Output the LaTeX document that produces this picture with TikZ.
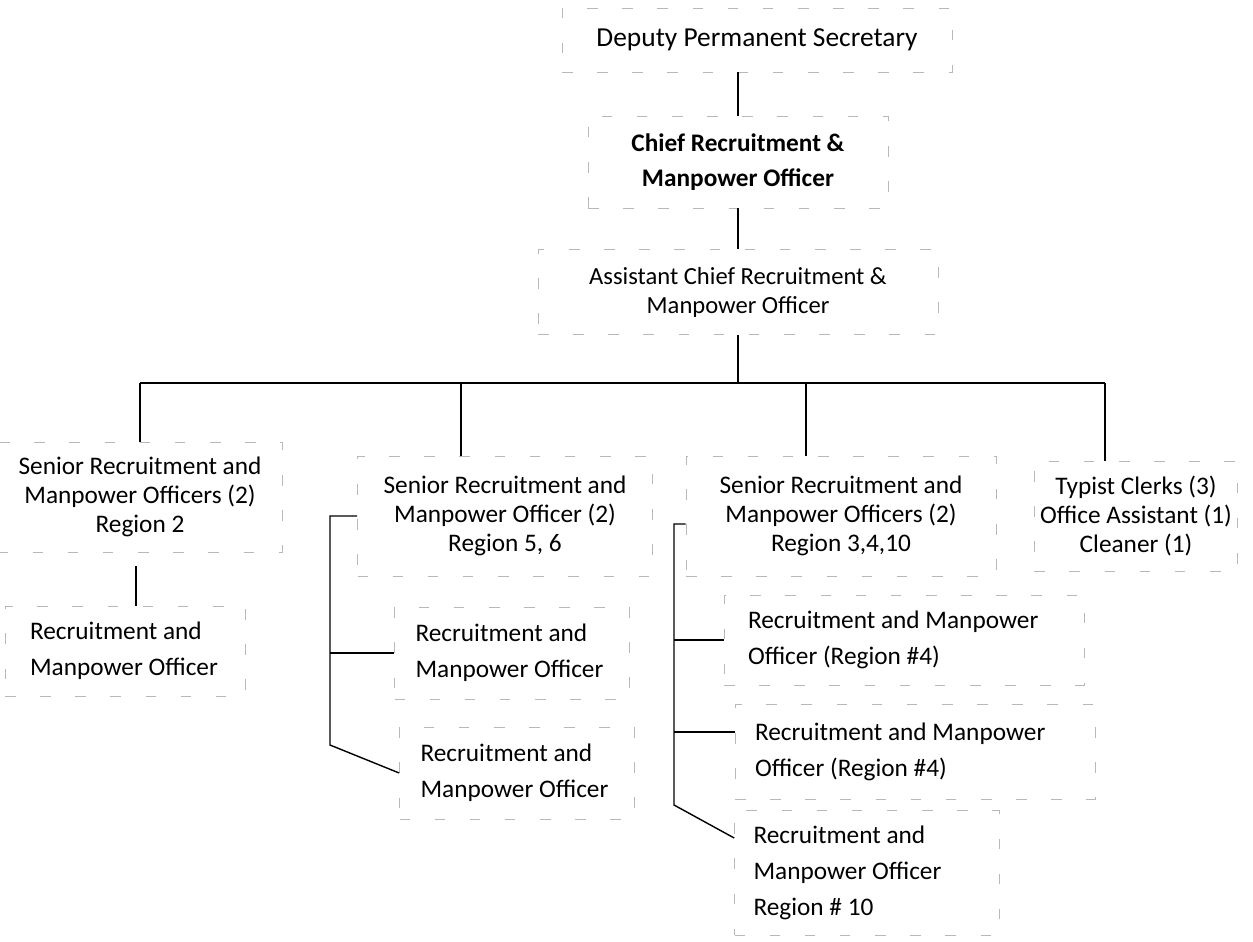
\documentclass[tikz,border=0pt]{standalone}
\usepackage{fontspec}
\setmainfont{Carlito}
\usetikzlibrary{calc}

\begin{document}
\begin{tikzpicture}[x=0.02cm,y=-0.02cm,
ghostbox/.style={draw=black!28,line width=0.4pt,dash pattern=on 6pt off 14pt},
post/.style={ghostbox,align=center,font=\fontsize{14.4}{16.5}\selectfont},
loosepost/.style={post,font=\fontsize{14.4}{20.5}\selectfont},
unitpost/.style={ghostbox,align=flush left,font=\fontsize{14.4}{20.5}\selectfont},
link/.style={line width=0.8pt,black}]

\useasboundingbox (0,0) rectangle (1253,942);

% top of the chart
\node[post,font=\fontsize{15.6}{18}\selectfont,minimum width=7.8cm,minimum height=1.28cm] (dps) at (757,40) {Deputy Permanent Secretary};
\node[loosepost,font=\bfseries\fontsize{14.4}{20}\selectfont,minimum width=6cm,minimum height=1.84cm] (chief) at (738,162) {Chief Recruitment \&\\Manpower Officer};
\node[post,font=\fontsize{14}{16.5}\selectfont,minimum width=8cm,minimum height=1.7cm] (asst) at (738,292) {Assistant Chief Recruitment \&\\Manpower Officer};

\draw[link] (chief.north) -- (chief.north |- dps.south);
\draw[link] (asst.north) -- (asst.north |- chief.south);

% second level
\node[post,minimum width=5.7cm,minimum height=2.2cm] (sr2) at (140,497) {Senior Recruitment and\\Manpower Officers (2)\\Region 2};
\node[post,minimum width=5.9cm,minimum height=2.4cm] (sr56) at (505,516) {Senior Recruitment and\\Manpower Officer (2)\\Region 5, 6};
\node[post,minimum width=6.2cm,minimum height=2.4cm] (sr3) at (841,516) {Senior Recruitment and\\Manpower Officers (2)\\Region 3,4,10};
\node[post,minimum width=3.6cm,minimum height=2.2cm] (typ) at (1136,516) {Typist Clerks (3)\\Office Assistant (1)\\Cleaner (1)};

\coordinate (t1) at (140,383);
\coordinate (t2) at (461,383);
\coordinate (t3) at (806,383);
\coordinate (t4) at (1105,383);
\draw[link] (asst.south) -- (asst.south |- t1);
\draw[link] (t1) -- (t4);
\draw[link] (t1) -- (t1 |- sr2.north);
\draw[link] (t2) -- (t2 |- sr56.north);
\draw[link] (t3) -- (t3 |- sr3.north);
\draw[link] (t4) -- (t4 |- typ.north);

% units below the regions
\node[unitpost,text width=3.8cm,inner xsep=0.5cm,minimum height=1.8cm] (rm2) at (125,651) {Recruitment and\\Manpower Officer};
\draw[link] (rm2.north -| sr2.south) ++(-4,0) -- ++(0,-40);

\node[unitpost,text width=3.86cm,inner xsep=0.42cm,minimum height=1.84cm] (rm56a) at (512,653) {Recruitment and\\Manpower Officer};
\node[unitpost,text width=3.86cm,inner xsep=0.42cm,minimum height=1.84cm] (rm56b) at (517,773) {Recruitment and\\Manpower Officer};
\coordinate (b56) at (330,745);
\draw[link] (sr56.west) -| (b56) -- (rm56b.west);
\draw[link] (rm56a.west) -- (rm56a.west -| b56);

\node[unitpost,text width=6.24cm,inner xsep=0.48cm,minimum height=1.8cm] (rm3a) at (904,640) {Recruitment and Manpower\\Officer (Region \#4)};
\node[unitpost,text width=6.4cm,inner xsep=0.4cm,minimum height=1.9cm] (rm3b) at (915,752) {Recruitment and Manpower\\Officer (Region \#4)};
\node[unitpost,text width=4.54cm,inner xsep=0.38cm,minimum height=2.5cm] (rm3c) at (867,873) {Recruitment and\\Manpower Officer\\Region \# 10};
\coordinate (b3) at (674,805);
\draw[link] ($(sr3.west)+(0,8)$) -| (b3) -- ($(rm3c.west)+(0,-35)$);
\draw[link] (rm3a.west) -- (rm3a.west -| b3);
\draw[link] ($(rm3b.west)+(0,-20)$) -- ($(rm3b.west -| b3)+(0,-20)$);

\end{tikzpicture}
\end{document}
